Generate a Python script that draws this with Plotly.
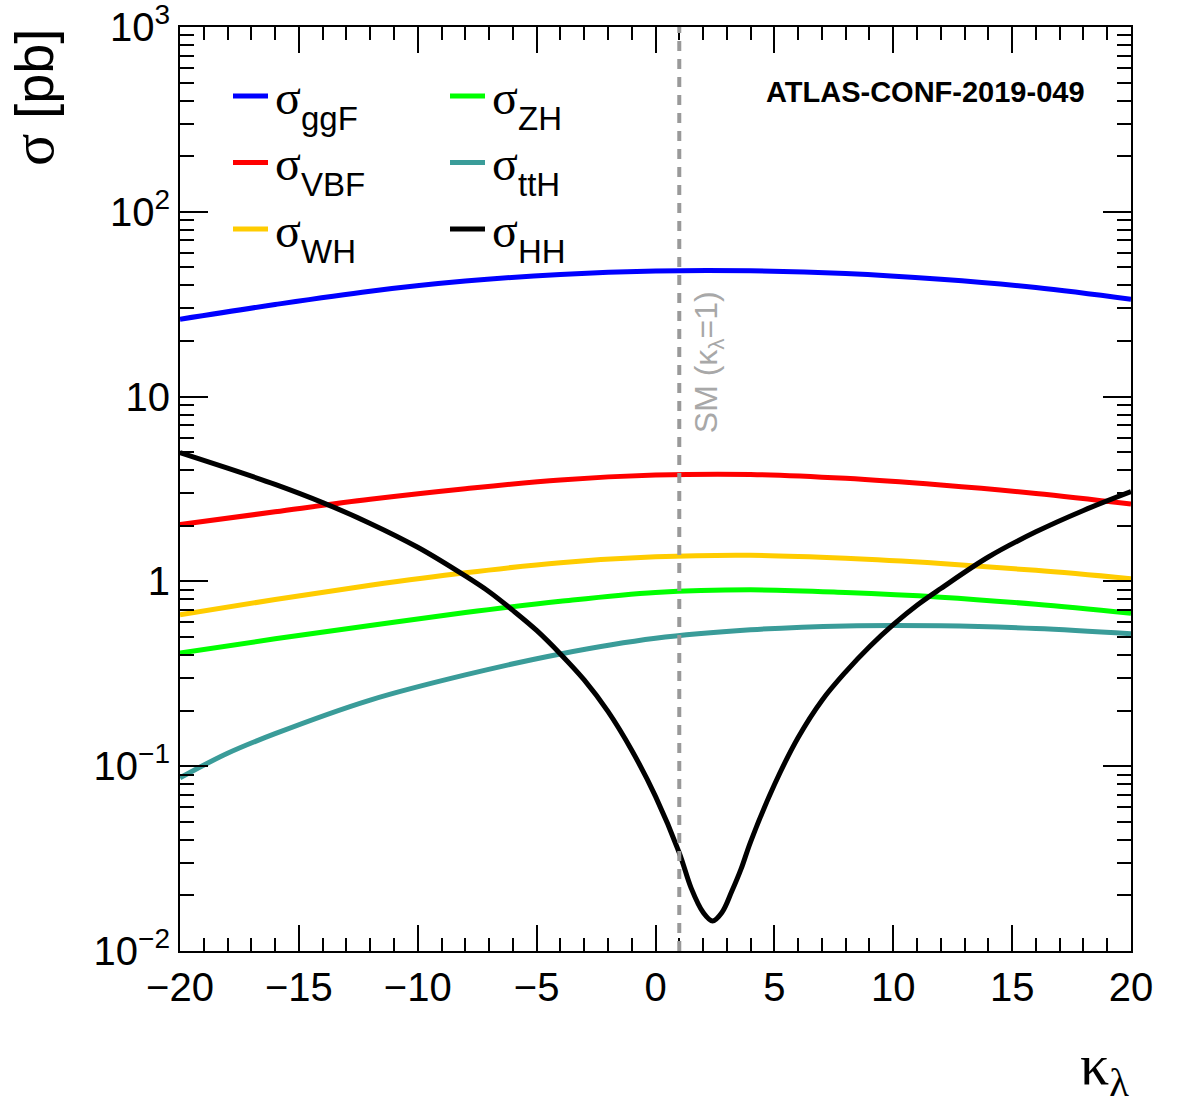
import plotly.graph_objects as go

# Cross sections (pb) versus the Higgs self-coupling modifier kappa_lambda
kl_ggf = [-20, -16, -12, -8, -4, 0, 4, 8, 12, 16, 20]
xs_ggf = [26.2, 31.5, 37.2, 42.2, 45.8, 47.8, 47.9, 46.3, 43.1, 38.9, 33.6]

kl_vbf = [-20, -16, -12, -8, -4, 0, 4, 8, 12, 16, 20]
xs_vbf = [2.03, 2.38, 2.78, 3.17, 3.54, 3.76, 3.79, 3.61, 3.32, 2.99, 2.62]

kl_wh = [-20, -16, -12, -8, -4, 0, 4, 8, 12, 16, 20]
xs_wh = [0.66, 0.798, 0.953, 1.114, 1.262, 1.358, 1.384, 1.334, 1.250, 1.148, 1.035]

kl_zh = [-20, -16, -12, -8, -4, 0, 4, 8, 12, 16, 20]
xs_zh = [0.41, 0.489, 0.578, 0.678, 0.780, 0.871, 0.900, 0.871, 0.822, 0.752, 0.673]

kl_tth = [-20, -18, -16, -12, -8, -4, 0, 4, 8, 12, 16, 20]
xs_tth = [0.0865, 0.1175, 0.150, 0.228, 0.312, 0.405, 0.492, 0.547, 0.574, 0.575, 0.556, 0.521]

kl_hh = [-20, -18, -16, -14, -12, -10, -8, -7, -6, -5, -4, -3, -2, -1, 0, 1, 1.5, 2,
         2.4, 2.8, 3.2, 3.6, 4, 5, 6, 7, 8, 9, 10, 11, 12, 14, 16, 18, 20]
xs_hh = [4.98, 4.10, 3.35, 2.67, 2.06, 1.53, 1.07, 0.879, 0.697, 0.543, 0.405, 0.293,
         0.198, 0.122, 0.0687, 0.034, 0.0219, 0.0162, 0.01453, 0.0162, 0.0209, 0.0278,
         0.039, 0.0794, 0.143, 0.227, 0.324, 0.443, 0.583, 0.743, 0.915, 1.355, 1.854,
         2.42, 3.06]

kl_sm = 1

x_ticks = [-20, -15, -10, -5, 0, 5, 10, 15, 20]
x_ticktext = ["\u221220", "\u221215", "\u221210", "\u22125", "0", "5", "10", "15", "20"]
y_ticks = [1e-2, 1e-1, 1, 10, 1e2, 1e3]
y_ticktext = ["10<sup>\u22122</sup>", "10<sup>\u22121</sup>", "1", "10",
              "10<sup>2</sup>", "10<sup>3</sup>"]
y_minor = [m * 10.0 ** e for e in range(-2, 3) for m in range(2, 10)]

SANS = "Liberation Sans, Arial, Helvetica, sans-serif"
SERIF = "Liberation Serif, Times New Roman, serif"

W, H = 1179, 1109
ML, MR, MT, MB = 180, 48, 27, 158
PW, PH = W - ML - MR, H - MT - MB


def px(x):
    return (x - ML) / PW


def py(y):
    return (H - MB - y) / PH


# (x values, y values, process label, colour, legend column, legend row)
curves = [
    (kl_ggf, xs_ggf, "ggF", "#0000ff", 0, 0),
    (kl_vbf, xs_vbf, "VBF", "#ff0000", 0, 1),
    (kl_wh, xs_wh, "WH", "#ffcc00", 0, 2),
    (kl_zh, xs_zh, "ZH", "#00ff00", 1, 0),
    (kl_tth, xs_tth, "ttH", "#3a9c99", 1, 1),
    (kl_hh, xs_hh, "HH", "#000000", 1, 2),
]

fig = go.Figure()
for xv, yv, name, col, _, _ in curves:
    fig.add_trace(go.Scatter(
        x=xv, y=yv, mode="lines", name=f"\u03c3 {name}", showlegend=False,
        line=dict(color=col, width=5, shape="spline", smoothing=1.0),
    ))

# Two-column legend: key line, large sigma and subscripted process name
LEG_X0 = [233, 450]
LEG_Y0, LEG_DY, LEG_LEN = 96, 66.5, 35
for _, _, name, col, c, r in curves:
    x0 = LEG_X0[c]
    y0 = LEG_Y0 + r * LEG_DY
    fig.add_shape(type="line", xref="paper", yref="paper",
                  x0=px(x0), x1=px(x0 + LEG_LEN), y0=py(y0), y1=py(y0),
                  line=dict(color=col, width=5))
    fig.add_annotation(x=px(x0 + LEG_LEN + 5), y=py(y0 + 1), xref="paper", yref="paper",
                       xanchor="left", yanchor="middle", showarrow=False, text="\u03c3",
                       font=dict(family=SERIF, size=48, color="black"))
    fig.add_annotation(x=px(x0 + LEG_LEN + 31), y=py(y0 + 22), xref="paper", yref="paper",
                       xanchor="left", yanchor="middle", showarrow=False, text=name,
                       font=dict(family=SANS, size=33, color="black"))

# Standard Model reference line
fig.add_shape(type="line", xref="x", yref="paper", x0=kl_sm, x1=kl_sm, y0=0, y1=1,
              line=dict(color="#999999", width=4, dash="10px,8px"), layer="above")
fig.add_annotation(
    x=kl_sm, y=0.79, xref="x", yref="y", xanchor="left", yanchor="bottom",
    xshift=7, textangle=-90, showarrow=False,
    text="SM (\u03ba<sub>\u03bb</sub>=1)",
    font=dict(family=SANS, size=32, color="#a8a8a8"),
)

fig.add_annotation(
    x=0.9537, y=0.9297, xref="paper", yref="paper", xanchor="right", yanchor="middle",
    showarrow=False, text="<b>ATLAS-CONF-2019-049</b>",
    font=dict(family=SANS, size=29, color="black"),
)

# Axis titles
fig.add_annotation(
    x=-0.155, y=1.0, xref="paper", yref="paper", xanchor="center", yanchor="top",
    textangle=-90, showarrow=False,
    text=f'<span style="font-family:{SERIF};font-size:60px">\u03c3</span> [pb]',
    font=dict(family=SANS, size=54, color="black"),
)
fig.add_annotation(
    x=1.0, y=py(1107), xref="paper", yref="paper", xanchor="right", yanchor="bottom",
    showarrow=False, text="\u03ba<sub>\u03bb</sub>",
    font=dict(family=SERIF, size=58, color="black"),
)

axis_common = dict(
    ticks="inside", tickwidth=2, tickcolor="black",
    showline=True, linewidth=2, linecolor="black", mirror="allticks",
    showgrid=False, zeroline=False, automargin=False, ticklabeloverflow="allow",
    tickfont=dict(family=SANS, size=40, color="black"),
)

fig.update_layout(
    width=W, height=H,
    margin=dict(l=ML, r=MR, t=MT, b=MB),
    paper_bgcolor="white", plot_bgcolor="white",
    showlegend=False,
    xaxis=dict(
        range=[-20, 20], tickmode="array", tickvals=x_ticks, ticktext=x_ticktext,
        ticklen=26,
        minor=dict(dtick=1, tick0=0, ticks="inside", ticklen=13, tickwidth=2,
                   tickcolor="black", showgrid=False),
        **axis_common,
    ),
    yaxis=dict(
        type="log", range=[-2, 3], tickmode="array", tickvals=y_ticks, ticktext=y_ticktext,
        ticklen=28,
        minor=dict(tickmode="array", tickvals=y_minor, ticks="inside", ticklen=14,
                   tickwidth=2, tickcolor="black", showgrid=False),
        **axis_common,
    ),
)

fig.write_html("out.html")
